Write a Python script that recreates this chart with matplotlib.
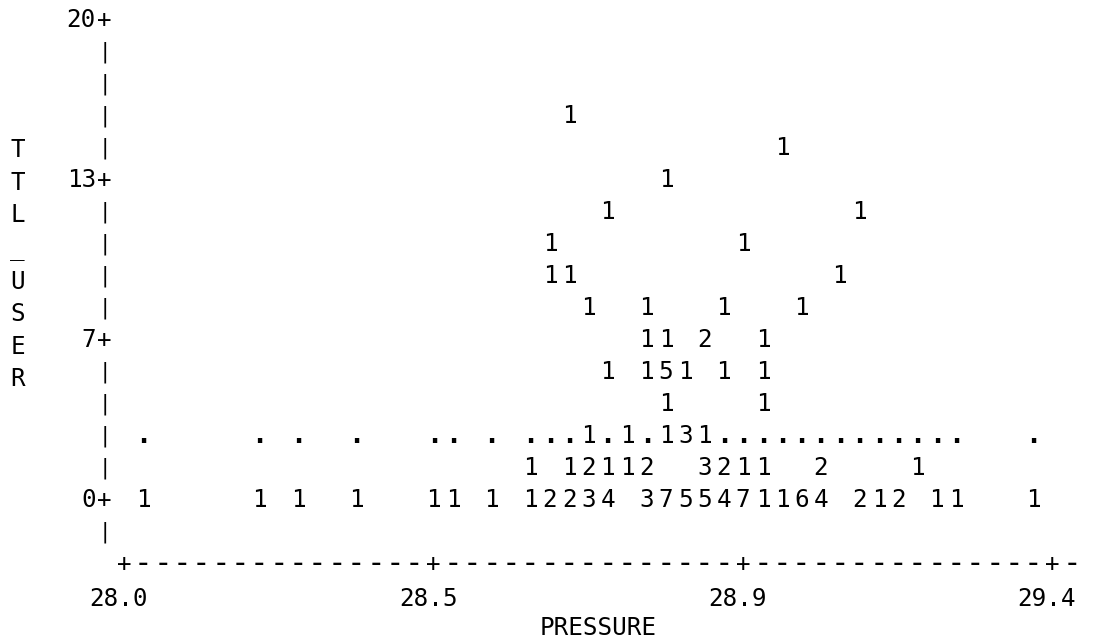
import matplotlib
matplotlib.use("Agg")
import matplotlib.pyplot as plt
import matplotlib.transforms as mtransforms
from matplotlib.font_manager import FontProperties

# ------------------------------------------------------------------
# Data (PROC PLOT style, TTL_USER * PRESSURE)
# Each symbol = number of observations falling in one print cell.
# ------------------------------------------------------------------
ttl_levels = [0, 1.33, 2.67, 4, 5.33, 6.67, 8, 9.33, 10.67, 12, 13.33, 14.67, 16]

p_lvl0 = [28.029, 28.204, 28.263, 28.350, 28.467, 28.496, 28.554,
          28.613, 28.642, 28.671, 28.700, 28.729,
          28.788, 28.817, 28.846, 28.875, 28.904, 28.933, 28.963, 28.992, 29.021, 29.050,
          29.108, 29.138, 29.167, 29.225, 29.254, 29.371]
n_lvl0 = [1, 1, 1, 1, 1, 1, 1,
          1, 2, 2, 3, 4,
          3, 7, 5, 5, 4, 7, 1, 1, 6, 4,
          2, 1, 2, 1, 1, 1]

p_lvl1 = [28.613, 28.671, 28.700, 28.729, 28.758, 28.788,
          28.875, 28.904, 28.933, 28.963, 29.050, 29.196]
n_lvl1 = [1, 1, 2, 1, 1, 2, 3, 2, 1, 1, 2, 1]

p_lvl2 = [28.700, 28.758, 28.817, 28.846, 28.875]
n_lvl2 = [1, 1, 1, 3, 1]

p_lvl3 = [28.817, 28.963]
n_lvl3 = [1, 1]

p_lvl4 = [28.729, 28.788, 28.817, 28.846, 28.904, 28.963]
n_lvl4 = [1, 1, 5, 1, 1, 1]

p_lvl5 = [28.788, 28.817, 28.875, 28.963]
n_lvl5 = [1, 1, 2, 1]

p_lvl6 = [28.700, 28.788, 28.904, 29.021]
n_lvl6 = [1, 1, 1, 1]

p_lvl7 = [28.642, 28.671, 29.079]
n_lvl7 = [1, 1, 1]

p_lvl8 = [28.642, 28.933]
n_lvl8 = [1, 1]

p_lvl9 = [28.729, 29.108]
n_lvl9 = [1, 1]

p_lvl10 = [28.817]
n_lvl10 = [1]

p_lvl11 = [28.992]
n_lvl11 = [1]

p_lvl12 = [28.671]
n_lvl12 = [1]

# overlay plot drawn with '.' symbol (hidden where a count symbol occupies the cell)
dot_pressure = [28.029, 28.204, 28.263, 28.350, 28.467, 28.496, 28.554,
                28.613, 28.642, 28.671, 28.729, 28.788,
                28.904, 28.933, 28.963, 28.992, 29.021, 29.050, 29.079, 29.108,
                29.138, 29.167, 29.196, 29.225, 29.254, 29.371]
dot_level = 2.67

x_ticks = [28.0, 28.467, 28.933, 29.4]
x_tick_labels = ["28.0", "28.5", "28.9", "29.4"]
y_ticks = [0, 6.667, 13.333, 20]
y_tick_labels = ["0", "7", "13", "20"]
x_label = "PRESSURE"
y_label = "TTL_USER"

# ------------------------------------------------------------------
FONT = "DejaVu Sans Mono"
FS = 17.5

fig = plt.figure(figsize=(10.94, 6.43), dpi=100)
ax = fig.add_axes([0, 0, 1, 1])
ax.set_xlim(27.8131, 29.4621)
ax.set_ylim(-6.0417, 20.75)
ax.axis("off")

# small downward nudge so glyph centres sit on the print-line centres
tr = mtransforms.offset_copy(ax.transData, fig=fig, x=0, y=-2, units="dots")

x_step = (x_ticks[-1] - x_ticks[0]) / 48   # one print column
y_step = (y_ticks[-1] - y_ticks[0]) / 15   # one print line

kw = dict(family=FONT, fontsize=FS, color="black", ha="center", va="center",
          transform=tr)

# count symbols
rows_p = [p_lvl0, p_lvl1, p_lvl2, p_lvl3, p_lvl4, p_lvl5, p_lvl6,
          p_lvl7, p_lvl8, p_lvl9, p_lvl10, p_lvl11, p_lvl12]
rows_n = [n_lvl0, n_lvl1, n_lvl2, n_lvl3, n_lvl4, n_lvl5, n_lvl6,
          n_lvl7, n_lvl8, n_lvl9, n_lvl10, n_lvl11, n_lvl12]
for lvl, ps, ns in zip(ttl_levels, rows_p, rows_n):
    for p, n in zip(ps, ns):
        ax.text(p, lvl, str(n), **kw)

# '.' overlay
for p in dot_pressure:
    ax.text(p, dot_level, ".", family=FONT, fontsize=FS * 1.1, fontweight="bold",
            ha="center", va="center", color="black", transform=tr)

# vertical axis made of characters
y_axis_x = x_ticks[0] - x_step
for r in range(-1, 16):
    yv = y_ticks[0] + r * y_step
    if r >= 0 and r % 5 == 0:
        ax.text(y_axis_x, yv, "+", **kw)
    else:
        ax.text(y_axis_x, yv, "|", family=FONT, fontsize=FS * 0.85,
                ha="center", va="center", color="black", transform=tr)
for yv, lab in zip(y_ticks, y_tick_labels):
    ax.text(x_ticks[0] - 1.45 * x_step, yv, lab, family=FONT, fontsize=FS,
            ha="right", va="center", color="black", transform=tr)

# horizontal axis made of characters
x_axis_y = y_ticks[0] - 2 * y_step
for k in range(50):
    xv = x_ticks[0] + k * x_step
    if k % 16 == 0:
        ax.text(xv, x_axis_y, "+", **kw)
    else:
        ax.text(xv, x_axis_y, "-", family=FONT, fontsize=FS * 1.28,
                ha="center", va="center", color="black", transform=tr)
for xv, lab in zip(x_ticks, x_tick_labels):
    ax.text(xv - 0.3 * x_step, y_ticks[0] - 3.1 * y_step, lab, **kw)

# axis labels
ax.text(x_ticks[0] + 24.5 * x_step, y_ticks[0] - 4 * y_step, x_label, **kw)

# vertical y label, one letter per print line
renderer = fig.canvas.get_renderer()
fp = FontProperties(family=FONT, size=FS)
_, lp_h, lp_d = renderer.get_text_width_height_descent("lp", fp, ismath=False)
pitch_px = abs(ax.transData.transform((0, y_step))[1] - ax.transData.transform((0, 0))[1])
ls = 0.862 * pitch_px / (lp_h - lp_d)
ax.text(x_ticks[0] - 5.5 * x_step, y_ticks[0] + 7.35 * y_step, "\n".join(y_label),
        family=FONT, fontsize=FS, ha="center", va="center", linespacing=ls,
        multialignment="center", color="black", transform=tr)

fig.savefig("out.png", dpi=100, facecolor="white")
